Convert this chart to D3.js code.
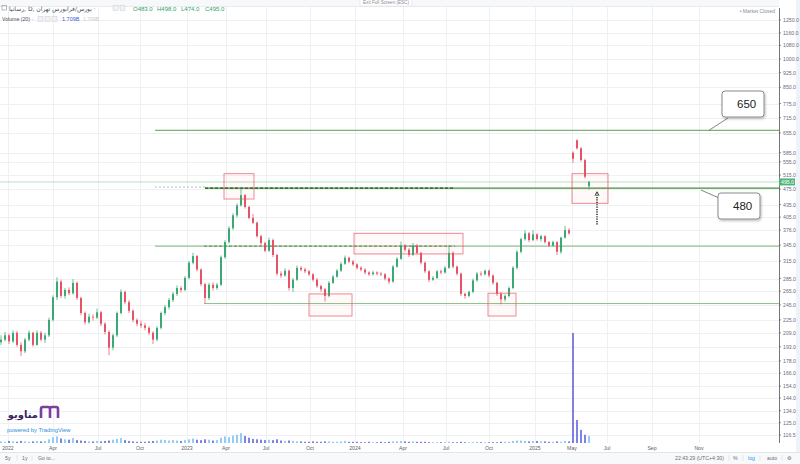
<!DOCTYPE html>
<html><head><meta charset="utf-8">
<script src="https://cdn.jsdelivr.net/npm/d3@7"></script>
<style>
html,body{margin:0;padding:0;background:#fff;}
svg{display:block;font-family:"Liberation Sans",Arial,"DejaVu Sans",sans-serif;}
</style></head><body>
<svg id="c" width="800" height="464"></svg>
<script>
// ---------- DATA ----------
const opens = [198,201,206,199,209,195,188,201,209,195,
209,201,206,225,256,280,258,267,262,278,
255,234,222,229,228,235,220,210,192,206,
234,264,249,237,225,220,218,215,209,201,
215,234,242,252,261,270,267,286,312,324,
300,276,255,275,270,275,322,351,380,409,
433,459,429,403,392,363,349,334,355,326,
293,290,298,270,283,303,300,297,292,283,
273,268,258,278,288,298,310,321,314,309,
303,300,295,292,295,293,292,285,280,305,
319,344,336,326,344,330,312,297,283,286,
297,295,303,330,305,293,261,258,264,282,
293,292,298,290,278,261,253,258,270,303,
332,357,369,355,367,357,363,351,344,351,
332,360,376,585,628,600,561,483];
const highs = [206,210,208,212,211,198,203,212,210,212,
211,209,228,259,287,283,270,271,284,280,
257,236,233,232,240,237,222,212,208,236,
268,266,252,239,227,224,221,217,211,217,
236,245,255,264,274,273,289,315,330,326,
302,278,278,279,278,325,355,384,414,438,
478,462,432,412,395,366,352,360,358,328,
297,302,300,286,307,306,303,299,294,286,
275,270,281,291,301,313,325,323,317,311,
306,302,297,298,297,296,294,287,308,322,
352,347,339,349,347,332,314,299,289,299,
300,306,345,333,307,295,263,266,285,296,
297,300,300,292,280,264,260,272,306,335,
360,376,372,376,369,366,365,353,354,353,
362,385,380,590,632,604,565,498];
const lows = [195,199,196,197,193,183,186,199,193,194,
199,197,204,223,252,255,254,259,260,252,
231,219,220,224,226,217,207,184,189,204,
232,246,234,222,217,215,212,206,196,199,
213,231,239,249,258,263,265,284,309,297,
273,247,252,266,267,273,319,348,376,404,
430,425,400,389,360,345,331,332,322,290,
286,288,266,264,281,297,294,289,280,270,
264,250,256,276,286,296,308,311,306,300,
297,292,289,290,290,289,282,276,278,303,
317,333,322,324,327,309,294,279,281,284,
292,293,301,302,290,258,254,256,262,280,
289,290,287,275,258,246,250,256,268,300,
329,354,351,353,354,352,348,341,342,326,
328,358,366,552,596,556,505,474];
const closes = [201,206,199,209,195,188,201,209,195,209,
201,206,225,256,280,258,267,262,278,255,
234,222,229,228,235,220,210,192,206,234,
264,249,237,225,220,218,215,209,201,215,
234,242,252,261,270,267,286,312,324,300,
276,255,275,270,275,322,351,380,409,433,
459,429,403,392,363,349,334,355,326,293,
290,298,270,283,303,300,297,292,283,273,
268,258,278,288,298,310,321,314,309,303,
300,295,292,295,293,292,285,280,305,319,
344,336,326,344,330,312,297,283,286,297,
295,303,330,305,293,261,258,264,282,293,
292,298,290,278,261,253,258,270,303,332,
357,369,355,367,357,363,351,344,351,332,
360,376,369,565,600,561,510,495];
// volume, billions
const volumes = [0.4,0.3,0.5,0.4,0.3,0.5,0.4,0.3,0.4,0.5,
0.4,0.5,0.9,1.4,1.6,1.1,0.9,0.8,1.2,0.7,
0.6,0.5,0.4,0.4,0.5,0.4,0.5,0.6,0.8,1.0,
1.2,0.7,0.5,0.4,0.3,0.3,0.3,0.4,0.5,0.6,
0.8,0.7,0.6,0.7,0.6,0.5,0.7,0.9,1.1,0.8,
0.7,0.9,0.8,0.6,0.7,1.3,1.6,1.4,1.8,2.0,
2.4,1.7,1.3,1.0,0.9,0.8,0.7,0.8,0.7,0.9,
0.6,0.5,0.6,0.5,0.4,0.4,0.3,0.3,0.4,0.3,
0.3,0.4,0.4,0.3,0.3,0.4,0.5,0.3,0.3,0.3,
0.2,0.2,0.3,0.2,0.2,0.3,0.2,0.3,0.4,0.4,
0.5,0.4,0.3,0.4,0.3,0.3,0.3,0.2,0.2,0.2,
0.2,0.2,0.3,0.2,0.2,0.3,0.2,0.2,0.2,0.3,
0.2,0.2,0.2,0.2,0.2,0.3,0.3,0.3,0.5,0.6,
0.6,0.5,0.4,0.5,0.5,0.4,0.4,0.3,0.3,0.4,
0.3,0.5,0.4,26.8,5.6,3.2,2.0,1.709];

const priceTicks = [1250,1160,1080,1000,925,850,775,715,655,585,555,515,475,435,405,376,345,315,285,265,245,225,209,193,178,166,154,144,134,125,116.5];
const timeLabels = ["2022","Apr","Jul","Oct","2023","Apr","Jul","Oct","2024","Apr","Jul","Oct","2025","May","Jul","Sep","Nov"];
const timeTickBars = [1.75,13,24.25,34.75,46.5,56.25,66.25,77.25,88.5,100.5,111.25,122,133.5,142.75,151.5,162.75,174.5];

// drawn levels (price) and their start bar
const levelPrices = [665, 478, 343, 247];
const levelStartBars = [38.5, 51, 38.5, 50.75];
const calloutLabels = ["650", "480"];
const lastPrice = 495;
// highlight rectangles [bar0, bar1, priceTop, priceBottom]
const boxBar0 = [55.75, 77, 88.25, 121.75, 142.75];
const boxBar1 = [63.25, 87.75, 115.5, 128.75, 151.75];
const boxTop = [519, 261, 369, 262, 519];
const boxBottom = [449, 230, 328, 230, 438];
const arrowBar = 149, arrowFrom = 388, arrowTo = 468;

// ---------- LAYOUT ----------
const W = 800, H = 464;
const plotRight = 779, plotTop = 8, plotBottom = 443;
const svg = d3.select("#c");

const x = d3.scaleLinear().domain([0, opens.length - 1]).range([1, 589]);
const y = d3.scaleLog().domain([111.3, 1338]).range([plotBottom, plotTop]);
const yv = d3.scaleLinear().domain([0, 26.8]).range([plotBottom, 333]);

svg.append("rect").attr("width", W).attr("height", H).attr("fill", "#ffffff");

// grid
const grid = svg.append("g");
grid.selectAll("line.h").data(priceTicks).join("line")
  .attr("x1", 0).attr("x2", plotRight)
  .attr("y1", d => Math.round(y(d)) + 0.5).attr("y2", d => Math.round(y(d)) + 0.5)
  .attr("stroke", "#eef0f4").attr("stroke-width", 1);
grid.selectAll("line.v").data(timeTickBars).join("line")
  .attr("x1", d => Math.round(x(d)) + 0.5).attr("x2", d => Math.round(x(d)) + 0.5)
  .attr("y1", 0).attr("y2", plotBottom)
  .attr("stroke", "#eef0f4").attr("stroke-width", 1);

// top strip
svg.append("rect").attr("x", 0).attr("y", 0).attr("width", W).attr("height", 6).attr("fill", "#f7f8fa");
svg.append("line").attr("x1", 0).attr("x2", W).attr("y1", 6.5).attr("y2", 6.5).attr("stroke", "#e9ebf0");

// volume bars
const bars = d3.range(opens.length);
svg.append("g").selectAll("rect").data(bars).join("rect")
  .attr("x", i => x(i) - 1).attr("width", 2)
  .attr("y", i => yv(volumes[i])).attr("height", i => plotBottom - yv(volumes[i]))
  .attr("fill", i => closes[i] >= opens[i] ? "rgba(110,190,240,0.75)" : "rgba(95,100,220,0.8)");

// current price line
svg.append("line").attr("x1", 0).attr("x2", plotRight)
  .attr("y1", y(lastPrice)).attr("y2", y(lastPrice))
  .attr("stroke", "#a8d8b0").attr("stroke-width", 0.8);

// level lines
const lv = svg.append("g");
lv.append("line").attr("x1", x(levelStartBars[0])).attr("x2", plotRight)
  .attr("y1", y(levelPrices[0])).attr("y2", y(levelPrices[0]))
  .attr("stroke", "#5a9e52").attr("stroke-width", 1);
lv.append("line").attr("x1", x(levelStartBars[2])).attr("x2", x(levelStartBars[1]))
  .attr("y1", y(levelPrices[1]) - 1).attr("y2", y(levelPrices[1]) - 1)
  .attr("stroke", "#b8bcc4").attr("stroke-width", 1).attr("stroke-dasharray", "2,2");
lv.append("line").attr("x1", x(levelStartBars[1])).attr("x2", plotRight)
  .attr("y1", y(levelPrices[1])).attr("y2", y(levelPrices[1]))
  .attr("stroke", "#3f8f3a").attr("stroke-width", 1.3);
lv.append("line").attr("x1", x(levelStartBars[1])).attr("x2", 455)
  .attr("y1", y(levelPrices[1])).attr("y2", y(levelPrices[1]))
  .attr("stroke", "#1f5e1c").attr("stroke-width", 1.2).attr("stroke-dasharray", "3,2");
lv.append("line").attr("x1", x(levelStartBars[2])).attr("x2", plotRight)
  .attr("y1", y(levelPrices[2])).attr("y2", y(levelPrices[2]))
  .attr("stroke", "#7fb87a").attr("stroke-width", 1);
lv.append("line").attr("x1", x(levelStartBars[3])).attr("x2", 455)
  .attr("y1", y(levelPrices[2])).attr("y2", y(levelPrices[2]))
  .attr("stroke", "#3f7a3a").attr("stroke-width", 0.8).attr("stroke-dasharray", "3,2");
lv.append("line").attr("x1", x(levelStartBars[3])).attr("x2", plotRight)
  .attr("y1", y(levelPrices[3])).attr("y2", y(levelPrices[3]))
  .attr("stroke", "#8fbf8a").attr("stroke-width", 1);

// candles
const up = "#2fa36b", dn = "#e5485b";
const cg = svg.append("g");
cg.selectAll("line").data(bars).join("line")
  .attr("x1", i => x(i)).attr("x2", i => x(i))
  .attr("y1", i => y(highs[i])).attr("y2", i => y(lows[i]))
  .attr("stroke", i => closes[i] >= opens[i] ? up : dn).attr("stroke-width", 0.7);
cg.selectAll("rect").data(bars).join("rect")
  .attr("x", i => x(i) - 0.9).attr("width", 1.8)
  .attr("y", i => y(Math.max(opens[i], closes[i])))
  .attr("height", i => Math.max(0.8, Math.abs(y(opens[i]) - y(closes[i]))))
  .attr("fill", i => closes[i] >= opens[i] ? up : dn);

// highlight boxes
svg.append("g").selectAll("rect").data(boxBar0.map((d, i) => i)).join("rect")
  .attr("x", i => x(boxBar0[i])).attr("width", i => x(boxBar1[i]) - x(boxBar0[i]))
  .attr("y", i => y(boxTop[i])).attr("height", i => y(boxBottom[i]) - y(boxTop[i]))
  .attr("fill", "rgba(242,54,69,0.03)").attr("stroke", "rgba(232,90,100,0.7)").attr("stroke-width", 1);

// dotted arrow
svg.append("line").attr("x1", x(arrowBar)).attr("x2", x(arrowBar))
  .attr("y1", y(arrowFrom)).attr("y2", y(arrowTo) + 3)
  .attr("stroke", "#333").attr("stroke-width", 1.6).attr("stroke-dasharray", "1.2,1.2");
svg.append("path")
  .attr("d", `M${x(arrowBar) - 2},${y(arrowTo) + 4} L${x(arrowBar)},${y(arrowTo)} L${x(arrowBar) + 2},${y(arrowTo) + 4}`)
  .attr("fill", "none").attr("stroke", "#333").attr("stroke-width", 1);

// callouts
const defs = svg.append("defs");
const f = defs.append("filter").attr("id", "sh").attr("x", "-20%").attr("y", "-20%").attr("width", "150%").attr("height", "160%");
f.append("feDropShadow").attr("dx", 1).attr("dy", 1.5).attr("stdDeviation", 1.2).attr("flood-color", "#000").attr("flood-opacity", 0.25);
const callouts = [
  {label: calloutLabels[0], bx: 722, by: 91, tx: 709, ty: y(levelPrices[0]), ax: 728, ay: 118},
  {label: calloutLabels[1], bx: 718, by: 193, tx: 701, ty: y(levelPrices[1]) + 2, ax: 719, ay: 198}
];
callouts.forEach(c => {
  svg.append("line").attr("x1", c.tx).attr("y1", c.ty).attr("x2", c.ax).attr("y2", c.ay)
    .attr("stroke", "#666").attr("stroke-width", 0.8);
  svg.append("rect").attr("x", c.bx).attr("y", c.by).attr("width", 42).attr("height", 26).attr("rx", 3)
    .attr("fill", "#fff").attr("stroke", "#8a8a8a").attr("stroke-width", 1).attr("filter", "url(#sh)");
  svg.append("text").attr("x", c.bx + 15).attr("y", c.by + 17).attr("font-size", 11.5)
    .attr("fill", "#222").text(c.label);
});

// right axis
svg.append("rect").attr("x", plotRight).attr("y", 0).attr("width", W - plotRight).attr("height", 452).attr("fill", "#fff");
svg.append("line").attr("x1", plotRight + 0.5).attr("x2", plotRight + 0.5).attr("y1", 8).attr("y2", plotBottom)
  .attr("stroke", "#50535e").attr("stroke-width", 0.8);
svg.append("rect").attr("x", 796).attr("y", 0).attr("width", 4).attr("height", 452).attr("fill", "#eef3f9");
const ra = svg.append("g");
ra.selectAll("line").data(priceTicks).join("line")
  .attr("x1", plotRight).attr("x2", plotRight + 2)
  .attr("y1", d => y(d)).attr("y2", d => y(d)).attr("stroke", "#50535e").attr("stroke-width", 0.6);
ra.selectAll("text").data(priceTicks).join("text")
  .attr("x", plotRight + 4).attr("y", d => y(d) + 2)
  .attr("font-size", 5.2).attr("fill", "#6a6d78")
  .text(d => d.toFixed(1));
svg.append("rect").attr("x", plotRight).attr("y", y(lastPrice) - 3.5).attr("width", 16).attr("height", 7)
  .attr("fill", "#4fb47a");
svg.append("text").attr("x", plotRight + 2).attr("y", y(lastPrice) + 2).attr("font-size", 5.2)
  .attr("fill", "#fff").text(lastPrice.toFixed(1));

// x axis labels
svg.append("g").selectAll("text").data(timeLabels).join("text")
  .attr("x", (d, i) => x(timeTickBars[i])).attr("y", 449.5)
  .attr("text-anchor", "middle").attr("font-size", 5.2).attr("fill", "#5d606b")
  .text(d => d);

// bottom toolbar
svg.append("line").attr("x1", 0).attr("x2", W).attr("y1", 452.5).attr("y2", 452.5).attr("stroke", "#e3e5ea");
svg.append("rect").attr("x", 0).attr("y", 453).attr("width", W).attr("height", 11).attr("fill", "#f8f9fb");
const bt = svg.append("g").attr("font-size", 5.2).attr("fill", "#6a6d78");
bt.append("text").attr("x", 5).attr("y", 460).text("5y");
bt.append("text").attr("x", 22).attr("y", 460).text("1y");
bt.append("text").attr("x", 38).attr("y", 460).text("Go to...");
bt.append("text").attr("x", 675).attr("y", 460).text("22:43:29 (UTC+4:30)");
bt.append("text").attr("x", 733).attr("y", 460).text("%");
bt.append("text").attr("x", 748).attr("y", 460).attr("fill", "#2196f3").text("log");
bt.append("text").attr("x", 767).attr("y", 460).text("auto");
bt.append("text").attr("x", 787).attr("y", 460).text("⚙");
[17, 32, 729, 743, 760, 782].forEach(px => bt.append("line").attr("x1", px).attr("x2", px).attr("y1", 455).attr("y2", 461).attr("stroke", "#d6d8de").attr("stroke-width", 0.6));

// header
const hd = svg.append("g").attr("font-size", 6).attr("fill", "#4a4d57");
hd.append("rect").attr("x", 2).attr("y", 5.5).attr("width", 4.5).attr("height", 4.5).attr("fill", "none").attr("stroke", "#777").attr("stroke-width", 0.5);
hd.append("text").attr("x", 9).attr("y", 10.5).attr("font-family", "'DejaVu Sans',sans-serif").attr("font-size", 6).attr("direction", "ltr")
  .text("رسانیا, D, بورس/فرابورس تهران ·");
[113, 120].forEach(px => hd.append("rect").attr("x", px).attr("y", 5.5).attr("width", 5).attr("height", 5).attr("fill", "#f1f2f5").attr("stroke", "#c9ccd4").attr("stroke-width", 0.5));
const ohlc = [["O", opens], ["H", highs], ["L", lows], ["C", closes]];
ohlc.forEach((o, k) => {
  hd.append("text").attr("x", 133 + k * 24).attr("y", 10.5).attr("fill", "#2fa36b")
    .text(o[0] + o[1][o[1].length - 1].toFixed(1));
});
hd.append("text").attr("x", 2).attr("y", 21).attr("font-size", 5.2).text("Volume (20) ·");
[38, 45, 52].forEach(px => hd.append("rect").attr("x", px).attr("y", 16.5).attr("width", 5).attr("height", 5).attr("fill", "#f1f2f5").attr("stroke", "#c9ccd4").attr("stroke-width", 0.5));
hd.append("text").attr("x", 62).attr("y", 21).attr("font-size", 5.5).attr("fill", "#3b5bdb").text(volumes[volumes.length - 1].toFixed(3) + "B");
hd.append("text").attr("x", 83).attr("y", 21).attr("font-size", 5).attr("fill", "#c8cad0").text(volumes[volumes.length - 1].toFixed(3) + "B");

// top center and top right
svg.append("rect").attr("x", 360).attr("y", -2).attr("width", 52).attr("height", 8).attr("fill", "#fff").attr("stroke", "#d9dbe0").attr("stroke-width", 0.5);
svg.append("text").attr("x", 386).attr("y", 4).attr("text-anchor", "middle").attr("font-size", 4.6).attr("fill", "#8a8d96").text("Exit Full Screen (ESC)");
svg.append("text").attr("x", 775).attr("y", 12.5).attr("text-anchor", "end").attr("font-size", 5).attr("fill", "#8a8d96").text("• Market Closed");

// logo
const lg = svg.append("g");
lg.append("text").attr("x", 38).attr("y", 418).attr("text-anchor", "end").attr("font-family", "'Noto Sans','DejaVu Sans',sans-serif")
  .attr("font-size", 10).attr("font-weight", "bold").attr("fill", "#3b1f5e").text("متاویو");
lg.append("path").attr("d", "M41,418 L41,409 Q41,407 43,407 L48,407 Q50,407 50,409 L50,418 M50,418 L50,409 Q50,407 52,407 L56,407 Q58,407 58,409 L58,418")
  .attr("fill", "none").attr("stroke", "#7b3fa0").attr("stroke-width", 2.6);
lg.append("text").attr("x", 7).attr("y", 432).attr("font-size", 5.8).attr("fill", "#2a8ee0").text("powered by TradingView");
</script>
</body></html>
